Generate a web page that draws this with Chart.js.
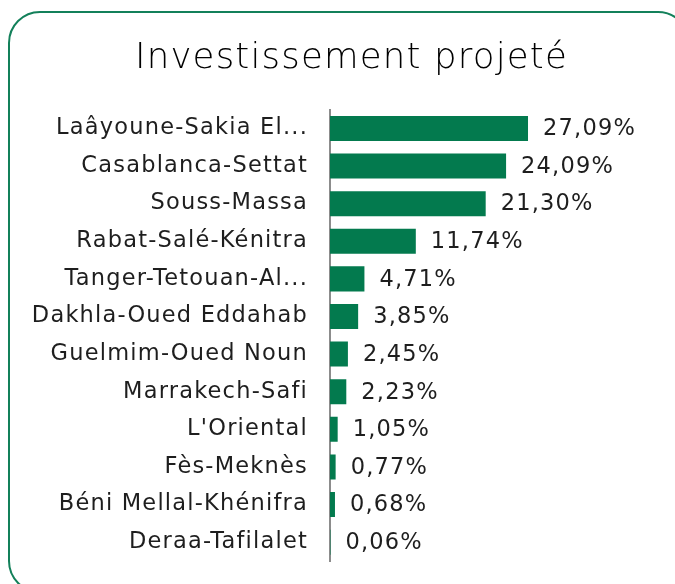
<!DOCTYPE html>
<html>
<head>
<meta charset="utf-8">
<script src="https://cdn.jsdelivr.net/npm/chart.js@4"></script>
<style>
  html, body { margin: 0; padding: 0; background: #fff; }
  #wrap { position: relative; width: 675px; height: 584px; overflow: hidden; }
  #card {
    position: absolute; left: 8px; top: 11px; width: 682px; height: 582px;
    border: 2px solid #13805a; border-radius: 32px; box-sizing: border-box;
  }
  #chart { position: absolute; left: 0; top: 0; }
</style>
</head>
<body>
<div id="wrap">
  <div id="card"></div>
  <canvas id="chart" width="675" height="584"></canvas>
</div>
<script>
// Regions and their share of projected investment (%)
const regions = [
    'Laâyoune-Sakia El...',
    'Casablanca-Settat',
    'Souss-Massa',
    'Rabat-Salé-Kénitra',
    'Tanger-Tetouan-Al...',
    'Dakhla-Oued Eddahab',
    'Guelmim-Oued Noun',
    'Marrakech-Safi',
    "L'Oriental",
    'Fès-Meknès',
    'Béni Mellal-Khénifra',
    'Deraa-Tafilalet'
];
const shares = [27.09, 24.09, 21.30, 11.74, 4.71, 3.85, 2.45, 2.23, 1.05, 0.77, 0.68, 0.06];
const shareLabels = ['27,09%', '24,09%', '21,30%', '11,74%', '4,71%', '3,85%', '2,45%', '2,23%', '1,05%', '0,77%', '0,68%', '0,06%'];

const labelFont = { family: 'DejaVu Sans', size: 22.5 };

// Wider tracking, closer to the original geometric typeface
const tracking = {
    id: 'tracking',
    beforeDraw(chart) {
        chart.ctx.letterSpacing = '1.2px';
    }
};

// Draw percentage text to the right of each bar
const valueLabels = {
    id: 'valueLabels',
    afterDatasetsDraw(chart) {
        const ctx = chart.ctx;
        const meta = chart.getDatasetMeta(0);
        ctx.save();
        ctx.font = `${labelFont.size}px '${labelFont.family}'`;
        ctx.fillStyle = '#1e1e1e';
        ctx.textAlign = 'left';
        ctx.textBaseline = 'middle';
        meta.data.forEach((bar, i) => {
            ctx.fillText(shareLabels[i], bar.x + 15, bar.y + 1);
        });
        ctx.restore();
    }
};

new Chart(document.getElementById('chart'), {
    type: 'bar',
    data: {
        labels: regions,
        datasets: [{
            data: shares,
            backgroundColor: '#037a4e',
            borderWidth: 0,
            categoryPercentage: 1,
            barPercentage: 0.665
        }]
    },
    options: {
        indexAxis: 'y',
        responsive: false,
        animation: false,
        layout: { padding: { left: 28, right: 0, top: 0, bottom: 23 } },
        plugins: {
            legend: { display: false },
            tooltip: { enabled: false },
            title: {
                display: true,
                text: 'Investissement projeté',
                color: '#000',
                font: { family: 'DejaVu Sans', size: 35.5, weight: '200' },
                padding: { top: 37, bottom: 30 }
            }
        },
        scales: {
            x: {
                display: false,
                min: 0,
                max: 47.2
            },
            y: {
                grid: { display: false, drawTicks: false },
                border: { display: true, color: '#8c8c8c', width: 2 },
                ticks: { color: '#1e1e1e', font: labelFont, padding: 22 },
                afterFit(scale) {
                    scale.width = 302;
                    scale.paddingTop = 0;
                    scale.paddingBottom = 0;
                }
            }
        }
    },
    plugins: [tracking, valueLabels]
});
</script>
</body>
</html>
